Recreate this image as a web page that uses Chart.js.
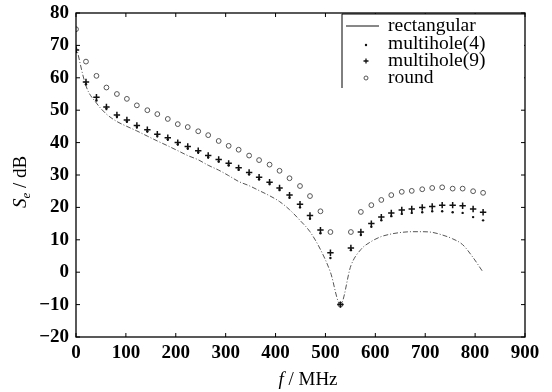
<!DOCTYPE html>
<html>
<head>
<meta charset="utf-8">
<script src="https://cdn.jsdelivr.net/npm/chart.js@4"></script>
<style>
html,body{margin:0;padding:0;background:#fff;}
#wrap{width:552px;height:392px;position:relative;}
</style>
</head>
<body>
<div id="wrap"><canvas id="c" width="552" height="392"></canvas></div>
<script>
// ---- data ----
const freqMHz = [0,20,41,61,82,102,122,143,163,184,204,224,245,265,286,306,326,347,367,388,408,428,449,469,490,510,530,551,571,592,612,632,653,673,694,714,734,755,775,796,816];
const rectangular = [70,57.5,52.2,48.8,46.5,45,43.6,42,40.5,39,37.5,36,34.7,33,31.5,29.8,28,26.7,25.2,23.6,21.8,19.3,16,12.5,7,0,-10,2,7,9.5,11,11.8,12.3,12.5,12.5,12.3,11.5,10.3,8.5,4.5,0];
const multihole4 = [68,58,53,50.5,48,46.5,44.8,43.5,42,41,39.5,38.2,37,35.5,34.2,33,31.6,30.2,28.7,27.2,25.4,23,20,16.5,12,4.4,-10,6.8,11.5,14,16,17.3,18,18.3,18.5,18.8,18.8,18.5,18.3,17,16];
const multihole9 = [68.6,58.7,54,51,48.5,47,45.3,44,42.6,41.5,40,38.8,37.5,36,34.8,33.6,32.2,30.8,29.3,27.8,26,23.8,21,17.5,13,6,-10,7.5,12.4,15,17,18.3,19.2,19.5,20,20.3,20.7,20.7,20.5,19.5,18.5];
const round = [75,65,60.6,57,55,53.5,51.5,50,48.8,47.3,45.7,44.8,43.5,42.3,40.5,39,37.8,36,34.6,33.2,31.3,29,26.6,23.5,18.8,12.4,-10,12.4,18.6,20.7,22.3,23.8,24.8,25.1,25.6,26,26.2,25.8,25.8,25,24.5];
const seriesNames = ['rectangular','multihole(4)','multihole(9)','round'];
const xTicks = [0,100,200,300,400,500,600,700,800,900];
const yTicks = [-20,-10,0,10,20,30,40,50,60,70,80];

const SERIF = '"Liberation Serif","DejaVu Serif",serif';
const pts = arr => arr.map((v,i)=>({x:freqMHz[i], y:v}));

const framePlugin = {
  id:'frame',
  afterDraw(chart){
    const {ctx, chartArea:a, scales} = chart;
    ctx.save();
    ctx.strokeStyle = '#000';
    ctx.lineWidth = 1.3;
    ctx.strokeRect(a.left, a.top, a.right-a.left, a.bottom-a.top);
    ctx.lineWidth = 1;
    const tl = 4;
    yTicks.forEach(v=>{
      const y = scales.y.getPixelForValue(v);
      ctx.beginPath();
      ctx.moveTo(a.left, y); ctx.lineTo(a.left+tl, y);
      ctx.moveTo(a.right, y); ctx.lineTo(a.right-tl, y);
      ctx.stroke();
    });
    xTicks.forEach(v=>{
      const x = scales.x.getPixelForValue(v);
      ctx.beginPath();
      ctx.moveTo(x, a.bottom); ctx.lineTo(x, a.bottom-tl);
      ctx.moveTo(x, a.top); ctx.lineTo(x, a.top+tl);
      ctx.stroke();
    });

    // legend box
    const lx = 342, ly = a.top+1, lb = 88;
    ctx.fillStyle = '#fff';
    ctx.fillRect(lx, ly, a.right-lx-1, lb-ly);
    ctx.beginPath();
    ctx.moveTo(lx, lb); ctx.lineTo(lx, ly); ctx.lineTo(a.right, ly);
    ctx.stroke();
    const rows = [26, 44, 61, 78];
    const mx = 366, tx = 388;
    // rectangular
    ctx.strokeStyle = '#111'; ctx.lineWidth = 1;
    ctx.beginPath(); ctx.moveTo(346, rows[0]); ctx.lineTo(379, rows[0]); ctx.stroke();
    // multihole(4)
    ctx.fillStyle = '#111';
    ctx.beginPath(); ctx.arc(mx, rows[1]+1, 1.2, 0, Math.PI*2); ctx.fill();
    // multihole(9)
    ctx.lineWidth = 1.3;
    ctx.beginPath(); ctx.moveTo(mx-2.5, rows[2]); ctx.lineTo(mx+2.5, rows[2]);
    ctx.moveTo(mx, rows[2]-2.5); ctx.lineTo(mx, rows[2]+2.5); ctx.stroke();
    // round
    ctx.strokeStyle = '#555'; ctx.lineWidth = 1;
    ctx.beginPath(); ctx.arc(mx, rows[3], 2, 0, Math.PI*2); ctx.stroke();
    ctx.fillStyle = '#000';
    ctx.font = '19.5px ' + SERIF;
    ctx.textBaseline = 'middle';
    ctx.textAlign = 'left';
    seriesNames.forEach((n,i)=>ctx.fillText(n, tx, rows[i]));

    // x title: f / MHz
    ctx.textBaseline = 'alphabetic';
    const fI = 'italic 19px ' + SERIF, fN = '19px ' + SERIF;
    ctx.font = fI; const w1 = ctx.measureText('f').width;
    ctx.font = fN; const w2 = ctx.measureText(' / MHz').width;
    let sx = 308 - (w1+w2)/2;
    ctx.font = fI; ctx.fillText('f', sx, 385);
    ctx.font = fN; ctx.fillText(' / MHz', sx+w1, 385);

    // y title: S_e / dB (rotated)
    ctx.save();
    ctx.translate(26, 182);
    ctx.rotate(-Math.PI/2);
    const fS = 'italic 13px ' + SERIF;
    ctx.font = fI; const a1 = ctx.measureText('S').width;
    ctx.font = fS; const a2 = ctx.measureText('e').width;
    ctx.font = fN; const a3 = ctx.measureText(' / dB').width;
    let s = -(a1+a2+a3)/2;
    ctx.font = fI; ctx.fillText('S', s, 0);
    ctx.font = fS; ctx.fillText('e', s+a1, 4);
    ctx.font = fN; ctx.fillText(' / dB', s+a1+a2, 0);
    ctx.restore();
    ctx.restore();
  }
};

new Chart(document.getElementById('c'), {
  type:'scatter',
  data:{
    datasets:[
      {label:seriesNames[0], data:pts(rectangular), showLine:true, pointRadius:0,
       borderColor:'#555', borderWidth:1, borderDash:[5,2,1,2], cubicInterpolationMode:'monotone', order:4},
      {label:seriesNames[1], data:pts(multihole4), showLine:false, pointStyle:'circle', pointRadius:1.2,
       backgroundColor:'#111', borderColor:'#111', borderWidth:0, order:2},
      {label:seriesNames[2], data:pts(multihole9), showLine:false, pointStyle:'cross', pointRadius:3.2,
       borderColor:'#111', borderWidth:1.5, order:1},
      {label:seriesNames[3], data:pts(round), showLine:false, pointStyle:'circle', pointRadius:2.4,
       backgroundColor:'rgba(255,255,255,0)', borderColor:'#555', borderWidth:1, order:3}
    ]
  },
  options:{
    responsive:false, animation:false,
    layout:{padding:{left:0, top:13, right:27, bottom:0}},
    plugins:{legend:{display:false}, tooltip:{enabled:false}},
    scales:{
      x:{type:'linear', min:0, max:900,
         afterFit(s){ s.height = 55; },
         afterBuildTicks(s){ s.ticks = xTicks.map(v=>({value:v})); },
         grid:{display:false, drawTicks:false}, border:{display:false},
         ticks:{padding:5, color:'#000', font:{family:SERIF, size:19, weight:'bold'}, maxRotation:0}},
      y:{type:'linear', min:-20, max:80,
         afterFit(s){ s.width = 76; s.paddingTop = 0; s.paddingBottom = 0; },
         afterBuildTicks(s){ s.ticks = yTicks.map(v=>({value:v})); },
         grid:{display:false, drawTicks:false}, border:{display:false},
         ticks:{padding:7, color:'#000', font:{family:SERIF, size:19, weight:'bold', lineHeight:0.8},
                callback:v=>String(v).replace('-','\u2212')}}
    }
  },
  plugins:[framePlugin]
});
</script>
</body>
</html>
